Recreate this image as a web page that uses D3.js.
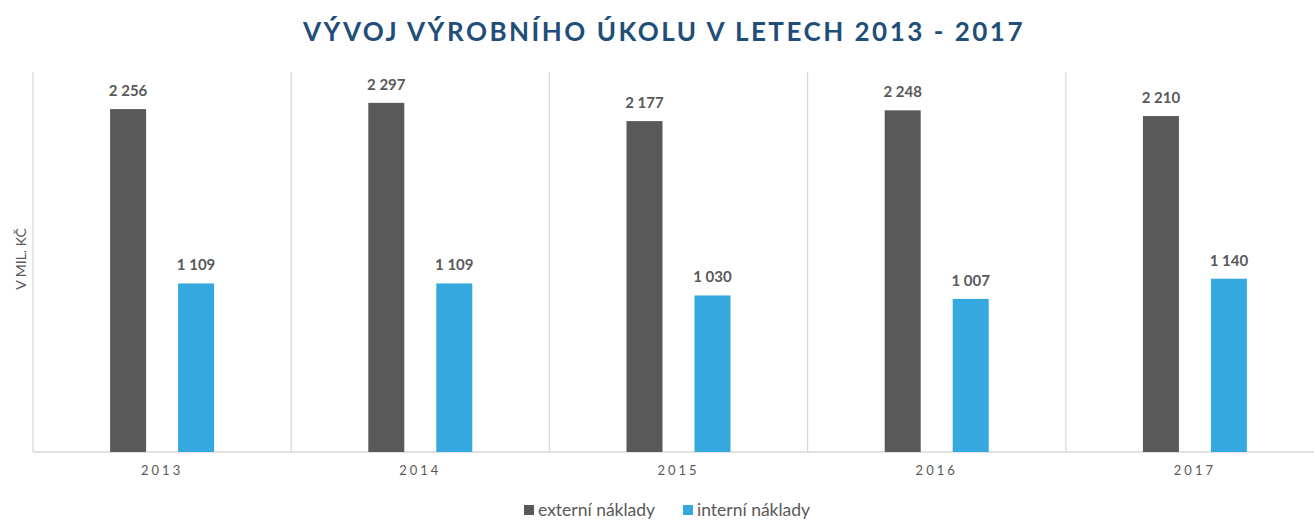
<!DOCTYPE html>
<html>
<head>
<meta charset="utf-8">
<script src="https://cdn.jsdelivr.net/npm/d3@7"></script>
<style>
  body { margin: 0; background: #fff; }
  text { font-family: Lato, "Open Sans", sans-serif; }
</style>
</head>
<body>
<svg id="chart"></svg>
<script>
// data
const years = ['2013', '2014', '2015', '2016', '2017'];
const externi = [2256, 2297, 2177, 2248, 2210];
const interni = [1109, 1109, 1030, 1007, 1140];
const seriesNames = ['externí náklady', 'interní náklady'];
const colors = ['#595959', '#36A8E0'];

const width = 1314, height = 520;
const margin = { top: 72, right: -10, bottom: 68, left: 33 };
const innerW = width - margin.left - margin.right;
const innerH = height - margin.top - margin.bottom;

const svg = d3.select('#chart')
    .attr('width', width)
    .attr('height', height);

const chart = svg.append('g')
    .attr('transform', `translate(${margin.left},${margin.top})`);

const xScale = d3.scaleBand()
    .domain(years)
    .range([0, innerW]);

const yScale = d3.scaleLinear()
    .domain([0, 2500])
    .range([innerH, 0]);

const barW = 36, offset = 34;
const fmt = v => d3.format(',')(v).replace(/,/g, ' ');

// category separators
chart.selectAll('.sep')
    .data(d3.range(years.length + 1))
    .join('line')
    .attr('x1', i => i * xScale.bandwidth())
    .attr('x2', i => i * xScale.bandwidth())
    .attr('y1', 0)
    .attr('y2', innerH)
    .attr('stroke', '#D9D9D9')
    .attr('stroke-width', 1.3);

// baseline
chart.append('line')
    .attr('x1', 0).attr('x2', innerW)
    .attr('y1', innerH).attr('y2', innerH)
    .attr('stroke', '#D9D9D9')
    .attr('stroke-width', 1.5);

const series = [externi, interni];
series.forEach((vals, s) => {
  const dx = s === 0 ? -offset : offset;
  const data = years.map((y, i) => ({ year: y, value: vals[i] }));

  chart.selectAll('.bar-' + s)
      .data(data)
    .join('rect')
      .attr('class', 'bar-' + s)
      .attr('x', d => xScale(d.year) + xScale.bandwidth() / 2 + dx - barW / 2)
      .attr('y', d => yScale(d.value))
      .attr('width', barW)
      .attr('height', d => innerH - yScale(d.value))
      .attr('fill', colors[s]);

  chart.selectAll('.lbl-' + s)
      .data(data)
    .join('text')
      .attr('class', 'lbl-' + s)
      .attr('x', d => xScale(d.year) + xScale.bandwidth() / 2 + dx)
      .attr('y', d => yScale(d.value) - 13)
      .attr('text-anchor', 'middle')
      .attr('font-size', 15)
      .attr('font-weight', 'bold')
      .attr('fill', '#595959')
      .text(d => fmt(d.value));
});

// x axis labels
const xAxis = d3.axisBottom(xScale).tickSize(0).tickPadding(14);
const xAxisG = chart.append('g')
    .attr('transform', `translate(0,${innerH})`)
    .call(xAxis);
xAxisG.select('.domain').remove();
xAxisG.selectAll('text')
    .attr('font-family', 'Lato, "Open Sans", sans-serif')
    .attr('font-size', 13)
    .attr('letter-spacing', '3px')
    .attr('fill', '#595959');

// y axis title
svg.append('text')
    .attr('transform', `translate(26,259) rotate(-90)`)
    .attr('text-anchor', 'middle')
    .attr('font-size', 14)
    .attr('fill', '#595959')
    .text('V MIL. KČ');

// title
svg.append('text')
    .attr('x', 664)
    .attr('y', 41)
    .attr('text-anchor', 'middle')
    .attr('font-size', 26)
    .attr('font-weight', 'bold')
    .attr('letter-spacing', '2.5px')
    .attr('fill', '#1F4E79')
    .text('VÝVOJ VÝROBNÍHO ÚKOLU V LETECH 2013 - 2017');

// legend
const legendX = [524, 683];
seriesNames.forEach((name, i) => {
  const g = svg.append('g').attr('transform', `translate(${legendX[i]},505)`);
  g.append('rect').attr('width', 10).attr('height', 10).attr('fill', colors[i]);
  g.append('text')
      .attr('x', 14).attr('y', 11)
      .attr('font-size', 17.5)
      .attr('fill', '#595959')
      .text(name);
});
</script>
</body>
</html>
